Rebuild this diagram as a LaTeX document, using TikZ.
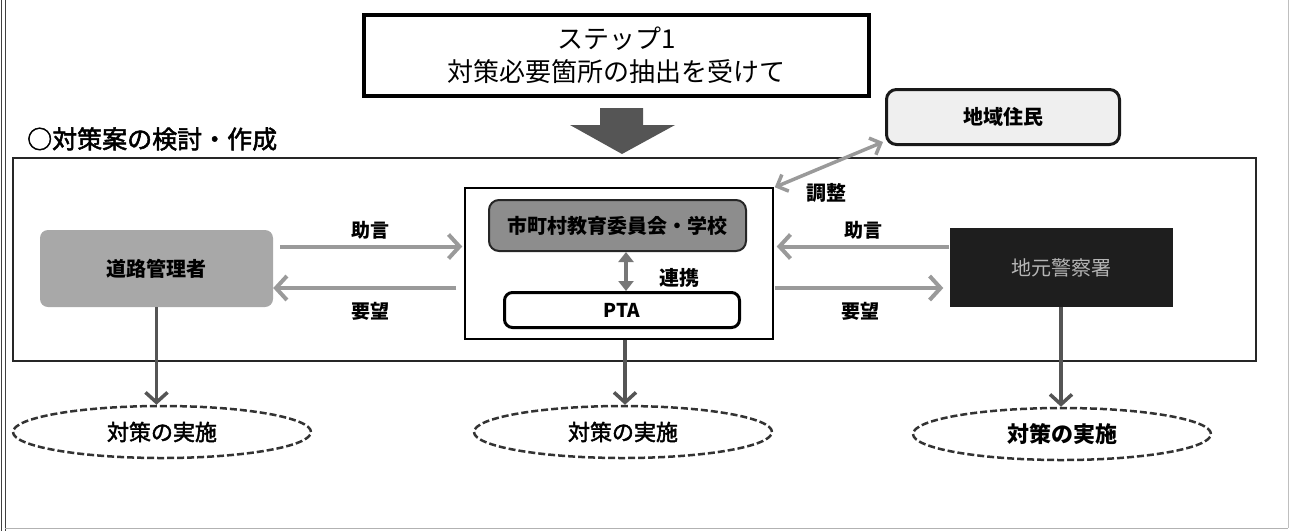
\documentclass[tikz,border=0pt]{standalone}
\usepackage{fontspec}
\setmainfont{Noto Sans CJK JP}
\newfontfamily\medfont[FakeBold=2]{Noto Sans CJK JP}
\usetikzlibrary{arrows.meta,shapes.geometric,calc}
\definecolor{hgray}{HTML}{9A9A9A}
\definecolor{vgray}{HTML}{555555}
\definecolor{linkgray}{HTML}{777777}
\definecolor{roadfill}{HTML}{A8A8A8}
\definecolor{schfill}{HTML}{8D8D8D}
\definecolor{resfill}{HTML}{EFEFEF}
\definecolor{polfill}{HTML}{1E1E1E}
\definecolor{poltext}{HTML}{B5B5B5}
\definecolor{bigarrow}{HTML}{555555}
\tikzset{
  fs/.style={font=\fontsize{#1pt}{#1pt}\selectfont},
  fsb/.style={font=\fontsize{#1pt}{#1pt}\selectfont\bfseries},
  fsm/.style={font=\fontsize{#1pt}{#1pt}\selectfont\medfont},
  plainbox/.style={rectangle, inner sep=0pt, align=center},
  harrow/.style={draw=hgray, line width=4pt, -{Straight Barb[length=11pt,width=24pt]}},
  varrow/.style={draw=vgray, line width=3.5pt, -{Straight Barb[length=10pt,width=22pt]}},
  linkarrow/.style={draw=linkgray, line width=4pt, {Triangle[length=10pt,width=15pt]}-{Triangle[length=10pt,width=15pt]}},
  adjarrow/.style={draw=hgray, line width=3.5pt, {Straight Barb[length=9pt,width=18pt]}-{Straight Barb[length=9pt,width=18pt]}},
  dashell/.style={ellipse, draw=black!80, line width=2.5pt, dash pattern=on 7pt off 3pt, inner sep=0pt, minimum width=298pt, minimum height=52pt},
  lbl/.style={inner sep=0pt, fsb=20}
}
\begin{document}
\begin{tikzpicture}[x=1pt,y=-1pt]
\useasboundingbox (0,0) rectangle (1290,531);
% outer frame lines
\draw[black!75, line width=1pt] (1,0) -- (1,531);
\draw[black!75, line width=1pt] (5,0) -- (5,531);
\draw[black!30, line width=1pt] (5,528) -- (1288,528);
\draw[black!25, line width=1pt] (1288,0) -- (1288,528);

% step box
\node[plainbox, draw=black, line width=4pt, minimum width=505pt, minimum height=81pt, font=\fontsize{26pt}{33pt}\selectfont] (step) at (616.5,55.5) {ステップ1\\対策必要箇所の抽出を受けて};

% big arrow
\fill[bigarrow] (600,108) -- (643,108) -- (643,125) -- (675,125) -- (622,154) -- (570,125) -- (600,125) -- cycle;

% title
\node[anchor=west, inner sep=0pt, fsm=25] (title) at (27,139) {○対策案の検討・作成};

% inner frame
\node[plainbox, draw=black!85, line width=1.5pt, minimum width=1243pt, minimum height=203pt] (frame) at (634.5,259.5) {};

% centre group
\node[plainbox, draw=black, line width=1.5pt, minimum width=308pt, minimum height=151pt] (ctr) at (619,263.5) {};
\node[plainbox, fill=schfill, draw=black!85, line width=2pt, rounded corners=10pt, minimum width=257pt, minimum height=51pt, fsb=20] (sch) at (617.5,225.5) {市町村教育委員会・学校};
\node[plainbox, fill=white, draw=black, line width=3pt, rounded corners=8pt, minimum width=235pt, minimum height=35pt, fsb=19] (pta) at (622,310) {PTA};
\draw[linkarrow] ([xshift=8.5pt]sch.south) -- ([xshift=4pt]pta.north);
\node[lbl] (lrenkei) at (679,278) {連携};

% road manager
\node[plainbox, fill=roadfill, rounded corners=8pt, minimum width=233pt, minimum height=77pt, fsb=20] (road) at (156.5,268.5) {道路管理者};

% police
\node[plainbox, fill=polfill, minimum width=223pt, minimum height=79pt, fs=20, text=poltext] (pol) at (1061,267.5) {地元警察署};

% residents
\node[plainbox, fill=resfill, draw=black!90, line width=3pt, rounded corners=10pt, minimum width=233pt, minimum height=55pt, fsb=20] (res) at (1003,117) {地域住民};

% y levels
\coordinate (yA) at (0,246.5);
\coordinate (yB) at (0,288);

% left arrows
\draw[harrow] ([xshift=7pt]road.east |- yA) -- ([xshift=-2pt]ctr.west |- yA);
\draw[harrow] ([xshift=-8pt]ctr.west |- yB) -- (road.east |- yB);
\node[lbl, fsb=19] (ljogen) at (370,230) {助言};
\node[lbl, fsb=19] (lyobo) at (370,311) {要望};

% right arrows
\draw[harrow] (pol.west |- yA) -- ([xshift=3pt]ctr.east |- yA);
\draw[harrow] ([xshift=1pt]ctr.east |- yB) -- ([xshift=-6pt]pol.west |- yB);
\node[lbl, fsb=19] (rjogen) at (863,230) {助言};
\node[lbl, fsb=19] (ryobo) at (860,311) {要望};

% adjustment arrow
\draw[adjarrow] ([xshift=-2pt,yshift=4pt]res.south west) -- ([xshift=1pt]ctr.north east);
\node[lbl] (lchosei) at (826,193) {調整};

% ellipses
\node[dashell, fsm=22] (e1) at (162,432) {対策の実施};
\node[dashell, fsm=22] (e2) at (623,432) {対策の実施};
\node[dashell, fsb=22] (e3) at (1062,434) {対策の実施};

% vertical arrows
\draw[varrow] (road.south) -- (road.south |- e1.north);
\draw[varrow] ([xshift=6pt]ctr.south) -- ([xshift=6pt]ctr.south |- e2.north);
\draw[varrow] (pol.south) -- (pol.south |- e3.north);
\end{tikzpicture}
\end{document}
